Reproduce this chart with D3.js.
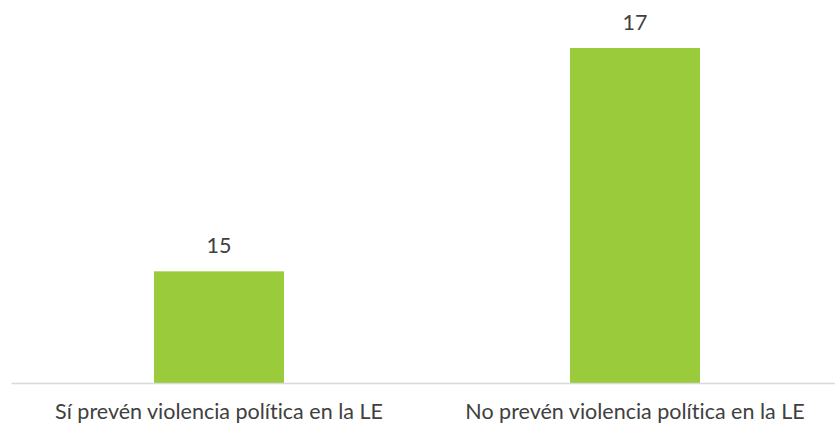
<!DOCTYPE html>
<html>
<head>
<meta charset="utf-8">
<script src="https://cdn.jsdelivr.net/npm/d3@7"></script>
<style>
  body { margin: 0; background: #fff; }
  text { font-family: Lato, "Open Sans", sans-serif; fill: #404040; font-variant-ligatures: none; }
</style>
</head>
<body>
<div id="chart"></div>
<script>
const categories = ["Sí prevén violencia política en la LE", "No prevén violencia política en la LE"];
const values = [15, 17];
const yDomain = [14, 17];

const width = 835, height = 425;
const margin = { top: 48, right: -8, bottom: 42, left: 11 };
const fontSize = "21.5px";

const svg = d3.select("#chart")
  .append("svg")
  .attr("width", width)
  .attr("height", height);

const x = d3.scaleBand()
  .domain(categories)
  .range([margin.left, width - margin.right])
  .paddingInner(0.6875)
  .paddingOuter(0.34375);

const y = d3.scaleLinear()
  .domain(yDomain)
  .range([height - margin.bottom, margin.top]);

const data = categories.map((c, i) => ({ cat: c, val: values[i] }));

// bars
svg.selectAll(".bar")
  .data(data)
  .join("rect")
  .attr("class", "bar")
  .attr("x", d => x(d.cat))
  .attr("y", d => y(d.val))
  .attr("width", x.bandwidth())
  .attr("height", d => y(yDomain[0]) - y(d.val))
  .attr("fill", "#9acb3a");

// baseline axis
const xAxis = svg.append("g")
  .attr("transform", `translate(0,${y(yDomain[0])})`)
  .call(d3.axisBottom(x).tickSize(0).tickPadding(21));
xAxis.attr("font-size", fontSize).attr("font-family", null);
xAxis.select(".domain").attr("stroke", "#d9d9d9").attr("stroke-width", 1.5);
xAxis.selectAll("text").attr("fill", "#404040");

// value labels
svg.selectAll(".val")
  .data(data)
  .join("text")
  .attr("class", "val")
  .attr("x", d => x(d.cat) + x.bandwidth() / 2)
  .attr("y", d => y(d.val) - 18)
  .attr("text-anchor", "middle")
  .attr("font-size", fontSize)
  .text(d => d.val);
</script>
</body>
</html>
